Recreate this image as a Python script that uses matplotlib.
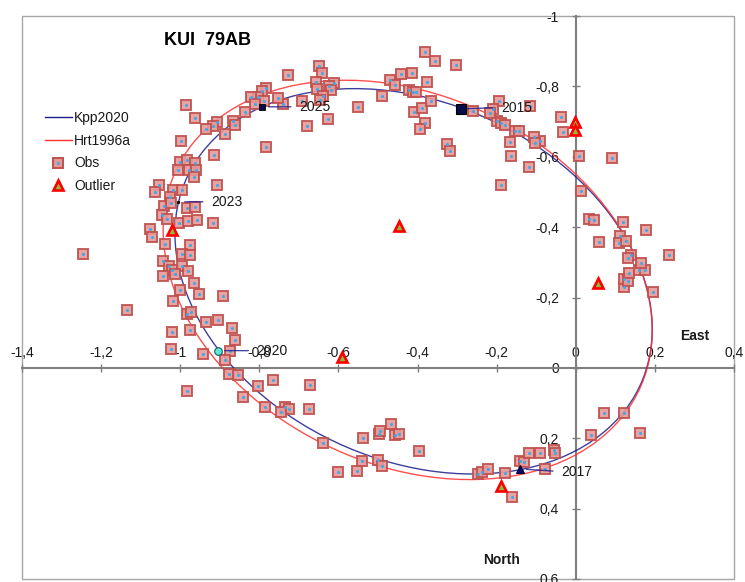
"""
Orbit plot for KUI 79AB: observed positions, outliers and two orbit solutions.
"""

import matplotlib
matplotlib.use("Agg")
import matplotlib.pyplot as plt
from matplotlib.patches import Ellipse, Rectangle
from matplotlib.lines import Line2D
from matplotlib.ticker import FuncFormatter

plt.rcParams["font.family"] = ["Liberation Sans", "DejaVu Sans"]

# ─── Color palette ────────────────────────────────────────────────────────────
NAVY     = "#1c1c8c"
RED      = "#ff3030"
OBS_EDGE = "#c0504d"
OBS_FACE = "#e59a9a"
OBS_DOT  = "#3fa9e6"
AXIS     = "#7f7f7f"
FRAME    = "#a6a6a6"
TEXT     = "#1a1a1a"

# ─── Data ─────────────────────────────────────────────────────────────────────
obs_x = [
    -0.648, -0.642, -0.728, -0.657, -0.612, -0.625, -0.654, -0.619, -0.638, -0.646,
    -0.692, -0.740, -0.753, -0.784, -0.794, -0.803, -0.820, -0.789, -0.810, -0.835,
    -0.551, -0.627, -0.680, -0.784, -0.985, -0.962, -0.997, -0.907, -0.918, -0.936,
    -0.866, -0.861, -0.886, -0.915, -1.000, -0.983, -0.962, -1.006, -0.977, -0.960,
    -0.965, -0.907, -1.054, -1.064, -1.019, -0.995, -1.026, -1.041, -1.023, -1.045,
    -1.033, -0.984, -0.962, -1.004, -0.980, -0.958, -0.917, -1.077, -1.071, -1.247,
    -1.038, -0.975, -0.995, -0.975, -1.043, -1.029, -1.020, -0.996, -0.980, -1.043,
    -1.012, -0.965, -1.001, -0.953, -0.893, -1.018, -1.135, -0.983, -0.973, -1.021,
    -0.975, -0.936, -0.905, -0.869, -0.861, -1.024, -0.943, -0.874, -0.886, -0.877,
    -0.854, -0.983, -0.803, -0.765, -0.842, -0.786, -0.673, -0.736, -0.726, -0.744,
    -0.675, -0.640, -0.537, -0.498, -0.494, -0.467, -0.456, -0.446, -0.397, -0.540,
    -0.500, -0.490, -0.601, -0.552, -0.248, -0.237, -0.221, -0.180, -0.162, -0.141,
    -0.130, -0.119, -0.090, -0.056, -0.053, -0.077, 0.072, 0.123, 0.039, 0.162,
    0.195, 0.121, 0.121, 0.133, 0.134, 0.161, 0.176, 0.164, 0.139, 0.132,
    0.235, 0.058, 0.111, 0.109, 0.127, 0.177, 0.120, 0.033, 0.046, 0.013,
    0.009, 0.092, -0.038, -0.033, -0.090, -0.105, -0.104, -0.119, -0.163, -0.166,
    -0.154, -0.144, -0.199, -0.190, -0.180, -0.195, -0.209, -0.216, -0.259, -0.116,
    -0.190, -0.325, -0.319, -0.380, -0.394, -0.409, -0.389, -0.367, -0.422, -0.412,
    -0.405, -0.490, -0.470, -0.458, -0.441, -0.415, -0.375, -0.380, -0.355, -0.303,
]
obs_y = [
    -0.857, -0.837, -0.832, -0.813, -0.811, -0.801, -0.792, -0.790, -0.774, -0.761,
    -0.759, -0.750, -0.766, -0.795, -0.787, -0.771, -0.769, -0.759, -0.750, -0.726,
    -0.742, -0.707, -0.686, -0.628, -0.747, -0.709, -0.644, -0.700, -0.687, -0.678,
    -0.703, -0.690, -0.664, -0.604, -0.585, -0.591, -0.583, -0.561, -0.563, -0.563,
    -0.543, -0.520, -0.520, -0.501, -0.506, -0.506, -0.487, -0.459, -0.469, -0.434,
    -0.422, -0.454, -0.457, -0.413, -0.418, -0.420, -0.411, -0.394, -0.373, -0.324,
    -0.351, -0.349, -0.324, -0.321, -0.305, -0.290, -0.278, -0.290, -0.275, -0.261,
    -0.267, -0.241, -0.220, -0.210, -0.205, -0.191, -0.165, -0.153, -0.160, -0.101,
    -0.107, -0.129, -0.135, -0.113, -0.080, -0.055, -0.039, -0.048, -0.023, 0.018,
    0.021, 0.067, 0.051, 0.034, 0.083, 0.112, 0.048, 0.110, 0.116, 0.126,
    0.116, 0.214, 0.200, 0.188, 0.178, 0.159, 0.192, 0.188, 0.236, 0.266,
    0.261, 0.280, 0.295, 0.293, 0.302, 0.297, 0.287, 0.300, 0.366, 0.265,
    0.268, 0.241, 0.243, 0.233, 0.243, 0.286, 0.127, 0.127, 0.192, 0.184,
    -0.215, -0.230, -0.253, -0.247, -0.271, -0.277, -0.278, -0.297, -0.321, -0.313,
    -0.322, -0.357, -0.376, -0.354, -0.360, -0.392, -0.414, -0.423, -0.420, -0.504,
    -0.601, -0.596, -0.713, -0.671, -0.644, -0.657, -0.638, -0.572, -0.603, -0.642,
    -0.674, -0.673, -0.702, -0.697, -0.691, -0.759, -0.735, -0.724, -0.730, -0.744,
    -0.520, -0.636, -0.617, -0.697, -0.678, -0.727, -0.739, -0.759, -0.790, -0.783,
    -0.784, -0.773, -0.818, -0.803, -0.835, -0.837, -0.813, -0.897, -0.873, -0.862,
]

outlier_x = [-1.021, -0.446, -0.002, -0.002, 0.056, -0.591, -0.188]
outlier_y = [-0.392, -0.403, -0.700, -0.676, -0.242, -0.032, 0.335]

# orbit ellipses: center, full width, full height, angle (deg)
orbit_names  = ["Kpp2020", "Hrt1996a"]
orbit_center = [(-0.410, -0.246), (-0.425, -0.250)]
orbit_width  = [1.296, 1.335]
orbit_height = [0.988, 1.017]
orbit_angle  = [34.3, 35.6]

# predicted positions on the Kpp2020 orbit
epoch_labels = ["2015", "2017", "2020", "2023", "2025"]
epoch_x = [-0.291, -0.142, -0.905, -1.006, -0.794]
epoch_y = [-0.736, 0.287, -0.049, -0.472, -0.742]

x_ticks = [-1.4, -1.2, -1.0, -0.8, -0.6, -0.4, -0.2, 0.0, 0.2, 0.4]
y_ticks = [-1.0, -0.8, -0.6, -0.4, -0.2, 0.0, 0.2, 0.4, 0.6]

# ─── Style per epoch marker / label offsets (points) ─────────────────────────
EPOCH_STYLE = {
    "2015": dict(marker="s", ms=6.5, mfc="#0a0a4a", mec="#000000", mew=0.8),
    "2017": dict(marker="^", ms=6, mfc="#0a0a6a", mec="#000033", mew=0.8),
    "2020": dict(marker="o", ms=5.5, mfc="#5fe6d8", mec="#1f5f5f", mew=0.8),
    "2023": dict(marker="o", ms=1.8, mfc="#000000", mec="#000000", mew=0.5),
    "2025": dict(marker="s", ms=4.2, mfc="#0a0a4a", mec="#000000", mew=0.6),
}
EPOCH_OFFSET = {"2015": (29, 1), "2017": (30, -2), "2020": (28, 0),
                "2023": (24, 0), "2025": (27, 0)}

OBS_MS = 6.5
OBS_MEW = 1.4


def comma_fmt(v, _pos):
    v = round(v, 2) + 0.0
    return f"{v:g}".replace(".", ",")


fig = plt.figure(figsize=(7.45, 5.82), dpi=100, facecolor="white")
ax = fig.add_axes([22 / 745, 3 / 582, 712 / 745, 563 / 582])
ax.set_xlim(-1.4, 0.4)
ax.set_ylim(0.6, -1.0)

# ── Axes through the origin ─────────────────────────────────────────────────
ax.spines["left"].set_position(("data", 0))
ax.spines["top"].set_position(("data", 0))
ax.spines["right"].set_visible(False)
ax.spines["bottom"].set_visible(False)
for s in ("left", "top"):
    ax.spines[s].set_color(AXIS)
    ax.spines[s].set_linewidth(1.5)
ax.xaxis.set_ticks_position("top")
ax.yaxis.set_ticks_position("left")
ax.set_xticks(x_ticks)
ax.set_yticks(y_ticks)
ax.xaxis.set_major_formatter(FuncFormatter(comma_fmt))
ax.yaxis.set_major_formatter(FuncFormatter(comma_fmt))
ax.tick_params(direction="inout", length=6, width=1, color=AXIS,
               labelcolor=TEXT, labelsize=10)
ax.tick_params(axis="x", pad=3)
ax.tick_params(axis="y", pad=9)

# outer plot-area frame
ax.add_patch(Rectangle((0, 0), 1, 1, transform=ax.transAxes, fill=False,
                       edgecolor=FRAME, linewidth=1, clip_on=False, zorder=1))

# ── Orbits ──────────────────────────────────────────────────────────────────
for c, w, h, a, col in zip(orbit_center, orbit_width, orbit_height, orbit_angle,
                           [NAVY, RED]):
    ax.add_patch(Ellipse(c, w, h, angle=a, fill=False, edgecolor=col,
                         linewidth=1.0, alpha=0.85, zorder=3))

# ── Observations ────────────────────────────────────────────────────────────
ax.plot(obs_x, obs_y, ls="none", marker="s", ms=OBS_MS, mfc=OBS_FACE, mec=OBS_EDGE,
        mew=OBS_MEW, alpha=0.9, zorder=4)
ax.plot(obs_x, obs_y, ls="none", marker="o", ms=2.2, mfc=OBS_DOT, mec="none",
        zorder=5)

ax.plot(outlier_x, outlier_y, ls="none", marker="^", ms=7.5, mfc="#8dbb3e",
        mec="#ff0000", mew=1.9, zorder=6)

# ── Epoch marks with leader lines ───────────────────────────────────────────
for lab, ex, ey in zip(epoch_labels, epoch_x, epoch_y):
    ax.plot([ex], [ey], ls="none", zorder=7, **EPOCH_STYLE[lab])
    ax.annotate(lab, xy=(ex, ey), xytext=EPOCH_OFFSET[lab],
                textcoords="offset points", ha="left", va="center",
                fontsize=10, color=TEXT, zorder=8,
                arrowprops=dict(arrowstyle="-", color=NAVY, lw=1, alpha=0.8,
                                relpos=(0, 0.5), shrinkA=4, shrinkB=5))

# ── Texts ───────────────────────────────────────────────────────────────────
ax.text(0.261, 0.957, "KUI  79AB", transform=ax.transAxes, ha="center",
        va="center", fontsize=13, fontweight="bold", color="#000000")
ax.text(0.945, 0.432, "East", transform=ax.transAxes, ha="center",
        va="center", fontsize=10, fontweight="bold", color=TEXT)
ax.text(0.674, 0.034, "North", transform=ax.transAxes, ha="center",
        va="center", fontsize=10, fontweight="bold", color=TEXT)

# ── Legend ──────────────────────────────────────────────────────────────────
h_kpp = Line2D([], [], color=NAVY, lw=1)
h_hrt = Line2D([], [], color=RED, lw=1)
h_sq = Line2D([], [], ls="none", marker="s", ms=OBS_MS, mfc=OBS_FACE, mec=OBS_EDGE,
              mew=OBS_MEW)
h_dot = Line2D([], [], ls="none", marker="o", ms=2.2, mfc=OBS_DOT, mec="none")
h_out = Line2D([], [], ls="none", marker="^", ms=7.5, mfc="#8dbb3e", mec="#ff0000",
               mew=1.9)
ax.legend([h_kpp, h_hrt, (h_sq, h_dot), h_out],
          orbit_names + ["Obs", "Outlier"],
          loc="upper left", bbox_to_anchor=(0.032, 0.831), frameon=False,
          borderpad=0, borderaxespad=0, handlelength=1.95, handletextpad=0.15,
          labelspacing=0.62, fontsize=10, labelcolor=TEXT)

fig.savefig("out.png", dpi=100, facecolor="white")
